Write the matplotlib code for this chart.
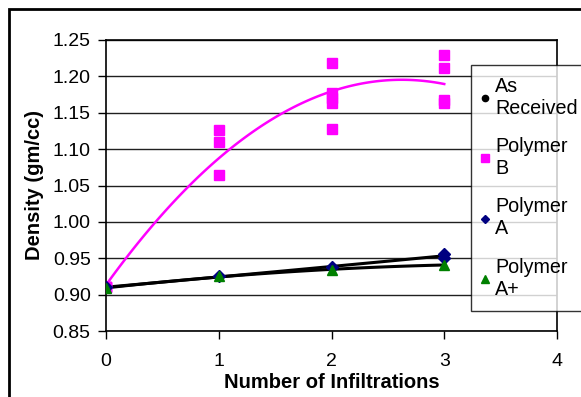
import numpy as np
import matplotlib
matplotlib.use("Agg")
import matplotlib.pyplot as plt
from matplotlib.patches import Rectangle

plt.rcParams['font.family'] = ['Liberation Sans', 'DejaVu Sans']

# data
as_recv_x = [0]
as_recv_y = [0.910]

poly_b_x = [0, 0, 0, 0, 1, 1, 1, 2, 2, 2, 2, 2, 3, 3, 3, 3]
poly_b_y = [0.910, 0.910, 0.910, 0.910, 1.126, 1.110, 1.065,
            1.219, 1.177, 1.170, 1.164, 1.128,
            1.229, 1.211, 1.168, 1.163]

poly_a_x = [0, 1, 2, 3, 3]
poly_a_y = [0.910, 0.925, 0.938, 0.956, 0.951]

poly_ap_x = [0, 1, 2, 3]
poly_ap_y = [0.909, 0.925, 0.934, 0.941]

y_ticks = [0.85, 0.90, 0.95, 1.00, 1.05, 1.10, 1.15, 1.20, 1.25]
x_ticks = [0, 1, 2, 3, 4]

fig = plt.figure(figsize=(5.81, 3.97), dpi=100)
ax = fig.add_axes([106/581, 1 - 331/397, (557-106)/581, (331-40)/397])

# trend lines (2nd order fits like the spreadsheet trendlines)
xs = np.linspace(0, 3, 100)
cb = np.polyfit(poly_b_x, poly_b_y, 2)
ax.plot(xs, np.polyval(cb, xs), color='#FF00FF', lw=1.8, zorder=3)
ca = np.polyfit(poly_a_x, poly_a_y, 2)
ax.plot(xs, np.polyval(ca, xs), color='black', lw=2.2, zorder=3)
cap = np.polyfit(poly_ap_x, poly_ap_y, 2)
ax.plot(xs, np.polyval(cap, xs), color='black', lw=2.2, zorder=3)

ax.plot(as_recv_x, as_recv_y, 'o', color='black', ms=6, ls='none',
        label='As\nReceived', zorder=4)
ax.plot(poly_b_x, poly_b_y, 's', color='#FF00FF', ms=7, ls='none',
        label='Polymer\nB', zorder=4)
ax.plot(poly_a_x, poly_a_y, 'D', color='#000080', ms=6, ls='none',
        label='Polymer\nA', zorder=5)
ax.plot(poly_ap_x, poly_ap_y, '^', color='#008000', ms=7, ls='none',
        label='Polymer\nA+', zorder=6)

ax.set_xlim(0, 4)
ax.set_ylim(0.85, 1.25)
ax.set_xticks(x_ticks)
ax.set_yticks(y_ticks)
ax.set_yticklabels([f"{v:.2f}" for v in y_ticks])
ax.tick_params(labelsize=14, direction='out', length=6, width=1, color='black')
ax.tick_params(axis='x', pad=10)
ax.tick_params(axis='y', pad=5)
ax.grid(True, axis='y', color='#202020', lw=1)
ax.set_axisbelow(True)
for s in ax.spines.values():
    s.set_color('black')
    s.set_linewidth(1.2)

ax.set_xlabel("Number of Infiltrations", fontsize=14.5, fontweight='bold', labelpad=2)
ax.set_ylabel("Density (gm/cc)", fontsize=14.5, fontweight='bold', labelpad=6)

leg = ax.legend(loc='upper left', bbox_to_anchor=(471/581, 1 - 65/397),
                bbox_transform=fig.transFigure, fontsize=14.2, frameon=True,
                fancybox=False, edgecolor='black', handlelength=0.2,
                handletextpad=0.42, labelspacing=0.98, borderpad=0.6,
                borderaxespad=0, markerscale=0.75)
leg.get_frame().set_linewidth(1)

# outer chart border
fig.patches.append(Rectangle((9/581, -0.1), 2, 1.1 - 9/397, transform=fig.transFigure,
                             fill=False, edgecolor='black', lw=2))

fig.savefig("out.png", dpi=100)
